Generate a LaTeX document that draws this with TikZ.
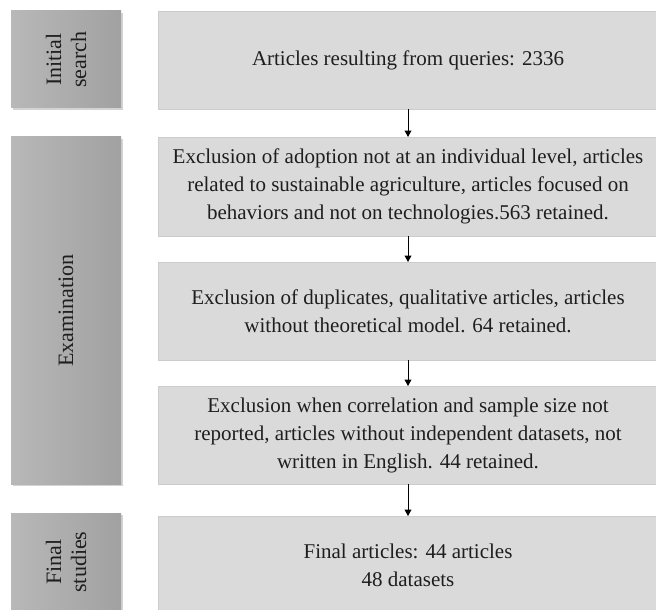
\documentclass[tikz,border=0pt]{standalone}
\usepackage{fontspec}
\setmainfont{Liberation Serif}
\usetikzlibrary{shapes,arrows.meta,positioning,shadows}
\definecolor{boxgray}{RGB}{218,218,218}
\definecolor{edgegray}{RGB}{204,204,204}
\definecolor{phaseleft}{RGB}{184,184,184}
\definecolor{phaseright}{RGB}{161,161,161}
\definecolor{textgray}{RGB}{30,30,30}

\begin{document}
\begin{tikzpicture}[x=0.5pt,y=-0.5pt,
  every node/.style={inner sep=0pt, outer sep=0pt, text=textgray},
  filterbox/.style={rectangle, fill=boxgray, draw=edgegray, line width=0.4pt,
    minimum width=250pt, minimum height=49pt, align=center,
    font=\fontsize{10.5}{14}\selectfont},
  phasebox/.style={rectangle, left color=phaseleft, right color=phaseright,
    minimum width=55pt,
    drop shadow={shadow xshift=1pt, shadow yshift=-1.2pt, opacity=0.35}},
  phaselabel/.style={rotate=90, align=center, font=\fontsize{11}{12.5}\selectfont},
  flow/.style={-{Triangle[length=3.2pt,width=3.4pt]}, line width=0.5pt, black}]
\useasboundingbox (0,0) rectangle (656,609);

% Phases on the left
\node[phasebox, minimum height=48.5pt] (initial) at (66,59.5) {};
\node[phaselabel] (initialtxt) at (initial) {Initial\\search};
\node[phasebox, minimum height=173.5pt] (exam) at (66,310.5) {};
\node[phaselabel] (examtxt) at (exam) {Examination};
\node[phasebox, minimum height=49pt] (final) at (66,562) {};
\node[phaselabel] (finaltxt) at (final) {Final\\studies};

% Steps on the right
\node[filterbox] (queries) at (408,60) {Articles resulting from queries: 2336};
\node[filterbox, minimum height=49.5pt] (level) at (408,186.5)
  {Exclusion of adoption not at an individual level, articles\\
   related to sustainable agriculture, articles focused on\\
   behaviors and not on technologies.563 retained.};
\node[filterbox] (model) at (408,311)
  {Exclusion of duplicates, qualitative articles, articles\\
   without theoretical model. 64 retained.};
\node[filterbox] (english) at (408,435)
  {Exclusion when correlation and sample size not\\
   reported, articles without independent datasets, not\\
   written in English. 44 retained.};
\node[filterbox] (datasets) at (408,565)
  {Final articles: 44 articles\\48 datasets};

% Arrows between steps
\draw[flow] (queries) -- (level);
\draw[flow] (level) -- (model);
\draw[flow] (model) -- (english);
\draw[flow] (english) -- (datasets);
\end{tikzpicture}
\end{document}
